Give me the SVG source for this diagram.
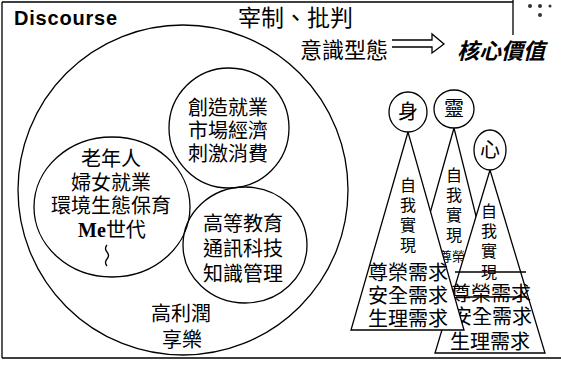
<svg xmlns="http://www.w3.org/2000/svg" width="561" height="370" viewBox="0 0 561 370">
<style>
.ln{fill:none;stroke:#000;stroke-width:1.3}
.sh{fill:#fff;stroke:#000;stroke-width:1.3}
.t{font-family:"Noto Sans CJK TC","Noto Sans CJK SC",sans-serif;fill:#000;text-anchor:middle}
.s20{font-size:20px}
.s16{font-size:16px}
</style>
<rect width="561" height="370" fill="#fff"/>
<g id="frame">
<path class="ln" d="M2,2 H513 M513,0 V35 M2,2 V358 M2,358 H561" stroke-width="1.6"/>
<g fill="#333"><circle cx="530" cy="6" r="2"/><circle cx="540" cy="6" r="2"/><circle cx="550" cy="6" r="1.5"/><circle cx="540" cy="15" r="2"/></g>
</g>
<g id="title">
<text x="14" y="25" font-family="Liberation Sans, Arial, sans-serif" font-weight="bold" font-size="20" textLength="103">Discourse</text>
<text class="t" x="238" y="26" font-size="23" style="text-anchor:start">宰制、批判</text>
<text class="t" x="300" y="58" font-size="22" style="text-anchor:start">意識型態</text>
<text class="t" x="457" y="59" font-size="22" font-weight="bold" font-style="italic" style="text-anchor:start">核心價值</text>
</g>
<g id="connectors">
<path class="ln" d="M392,40 H432 V34 L444,44 L432,53 V47 H392"/>
</g>
<g id="discourse">
<circle class="ln" cx="183" cy="190" r="165"/>
<text class="t s20" x="181" y="321">高利潤</text>
<text class="t s20" x="182" y="347">享樂</text>
</g>
<g id="economy">
<circle class="ln" cx="229" cy="128" r="60"/>
<text class="t s20" x="228" y="115">創造就業</text>
<text class="t s20" x="228" y="138">市場經濟</text>
<text class="t s20" x="228" y="161">刺激消費</text>
</g>
<g id="society">
<ellipse class="ln" cx="112" cy="207" rx="78" ry="70"/>
<text class="t s20" x="111" y="166">老年人</text>
<text class="t s20" x="111" y="189.5">婦女就業</text>
<text class="t s20" x="111" y="213">環境生態保育</text>
<text class="t s20" x="112" y="236.5"><tspan font-family="Liberation Serif, serif" font-weight="bold">Me</tspan>世代</text>
<path class="ln" stroke-width="1" d="M107,245 q-3,3.5 0,7 q3,3.5 0,7 q-3,3.5 0,7"/>
</g>
<g id="knowledge">
<ellipse class="ln" cx="245" cy="245" rx="62" ry="58"/>
<text class="t s20" x="243" y="231">高等教育</text>
<text class="t s20" x="243" y="256">通訊科技</text>
<text class="t s20" x="243" y="281">知識管理</text>
</g>
<g id="ling">
<polygon class="sh" points="454,128 400,320 502,320"/>
<ellipse class="sh" cx="454" cy="109" rx="20" ry="19"/>
<text class="t s20" x="454" y="116">靈</text>
<text class="t s16" x="454" y="181">自</text>
<text class="t s16" x="454" y="201">我</text>
<text class="t s16" x="454" y="221">實</text>
<text class="t s16" x="454" y="241">現</text>
<text class="t" font-size="13" x="465" y="261">尊榮需求</text>
</g>
<g id="xin">
<polygon class="sh" points="490,170 435,353 545,353"/>
<ellipse class="sh" cx="490" cy="150" rx="16" ry="20"/>
<text class="t s20" x="490" y="157">心</text>
<text class="t s16" x="489" y="217">自</text>
<text class="t s16" x="489" y="237">我</text>
<text class="t s16" x="489" y="257">實</text>
<text class="t s16" x="489" y="278">現</text>
<path class="ln" d="M455,272 H526 M456,297 H527"/>
<text class="t s20" x="491" y="301">尊榮需求</text>
<text class="t s20" x="492" y="324">安全需求</text>
<text class="t s20" x="490" y="349">生理需求</text>
</g>
<g id="shen">
<polygon class="sh" points="408,132 351,330 464,330"/>
<ellipse class="sh" cx="408" cy="112" rx="19" ry="20"/>
<text class="t s20" x="408" y="119">身</text>
<text class="t s16" x="408" y="191">自</text>
<text class="t s16" x="408" y="211">我</text>
<text class="t s16" x="408" y="231">實</text>
<text class="t s16" x="408" y="251">現</text>
<text class="t s20" x="408" y="280">尊榮需求</text>
<text class="t s20" x="408" y="303">安全需求</text>
<text class="t s20" x="408" y="326">生理需求</text>
</g>
</svg>
